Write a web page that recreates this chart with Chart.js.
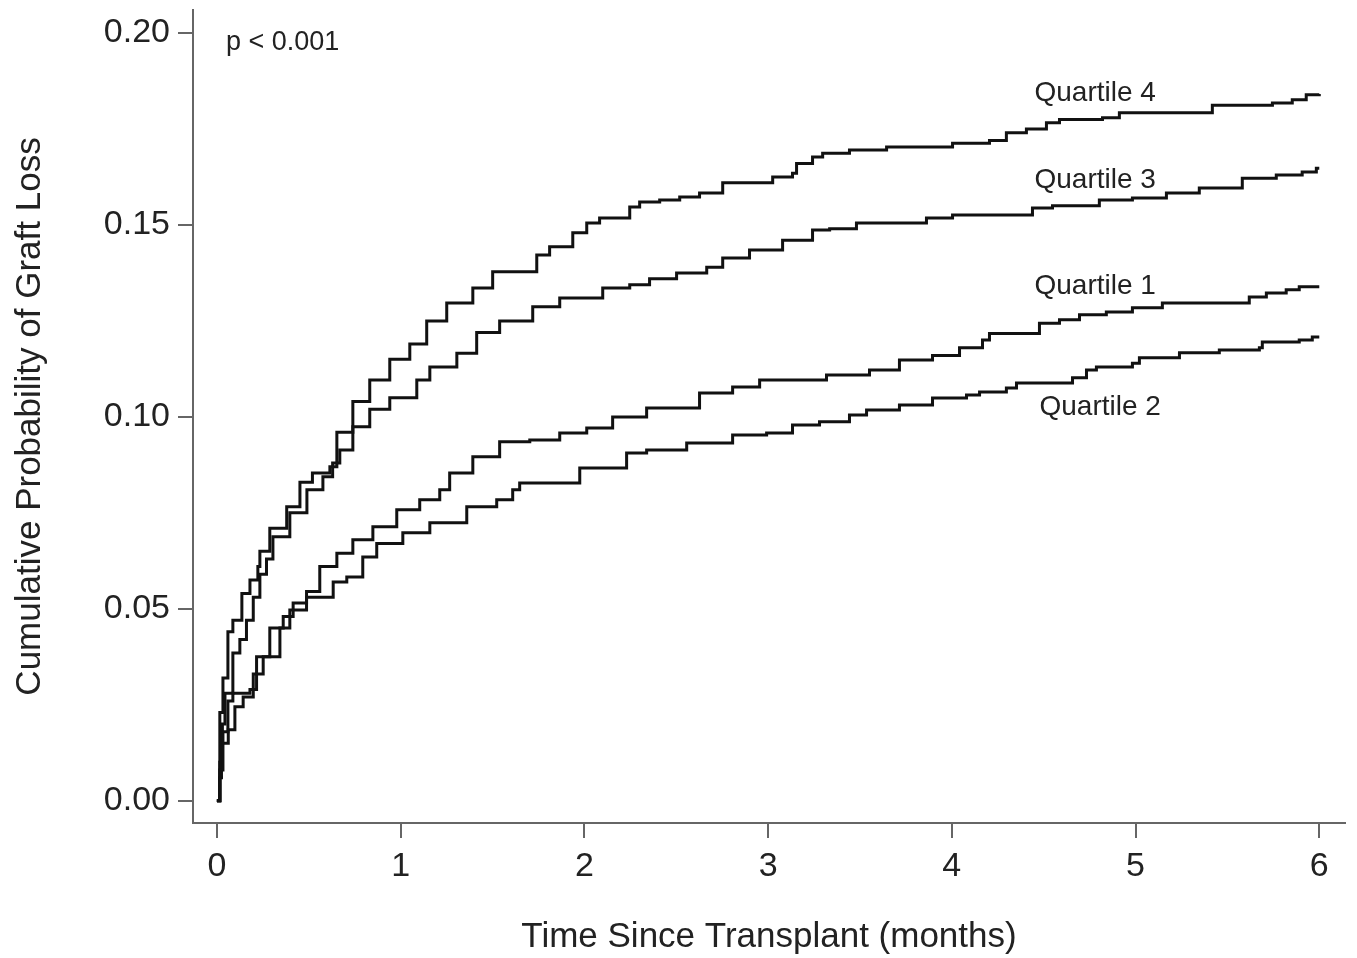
<!DOCTYPE html>
<html>
<head>
<meta charset="utf-8">
<title>Cumulative Probability of Graft Loss</title>
<script src="https://cdn.jsdelivr.net/npm/chart.js@4.4.1/dist/chart.umd.min.js"></script>
<style>
  html, body { margin: 0; padding: 0; background: #fff; }
  #wrap { width: 1357px; height: 958px; }
</style>
</head>
<body>
<div id="wrap"><canvas id="chart"></canvas></div>
<script>
// step curves (months, cumulative probability)
const q1Time = [0, 0.016, 0.033, 0.06, 0.087, 0.18, 0.216, 0.288, 0.361, 0.415, 0.488, 0.56, 0.653, 0.74, 0.849, 0.979, 1.104, 1.213, 1.267, 1.393, 1.539, 1.703, 1.866, 2.013, 2.154, 2.339, 2.627, 2.807, 2.954, 3.318, 3.552, 3.715, 3.895, 4.042, 4.167, 4.205, 4.477, 4.586, 4.695, 4.841, 4.983, 5.146, 5.619, 5.712, 5.82, 5.891, 6.0];
const q1Prob = [0, 0.008, 0.018, 0.026, 0.028, 0.029, 0.0375, 0.045, 0.048, 0.0515, 0.0545, 0.061, 0.0645, 0.068, 0.0714, 0.0758, 0.0784, 0.081, 0.0854, 0.0896, 0.0935, 0.094, 0.0958, 0.0971, 0.1, 0.1023, 0.1062, 0.1078, 0.1096, 0.1109, 0.1122, 0.1148, 0.116, 0.118, 0.12, 0.1217, 0.1244, 0.1253, 0.1266, 0.1273, 0.1284, 0.1297, 0.1312, 0.1323, 0.1331, 0.1339, 0.1339];

const q2Time = [0, 0.016, 0.025, 0.062, 0.098, 0.143, 0.198, 0.252, 0.343, 0.397, 0.488, 0.633, 0.707, 0.794, 0.87, 1.012, 1.159, 1.36, 1.523, 1.61, 1.648, 1.975, 2.23, 2.339, 2.557, 2.807, 2.992, 3.133, 3.28, 3.443, 3.536, 3.715, 3.895, 4.08, 4.151, 4.297, 4.352, 4.657, 4.733, 4.787, 4.983, 5.021, 5.239, 5.456, 5.674, 5.69, 5.891, 5.962, 6.0];
const q2Prob = [0, 0.006, 0.015, 0.0185, 0.0245, 0.027, 0.033, 0.0375, 0.045, 0.0497, 0.053, 0.057, 0.0583, 0.0635, 0.067, 0.0698, 0.0724, 0.0766, 0.0784, 0.081, 0.0828, 0.0867, 0.0906, 0.0914, 0.0932, 0.0953, 0.0958, 0.0979, 0.0987, 0.1005, 0.1018, 0.1031, 0.1049, 0.1057, 0.1065, 0.1075, 0.1088, 0.1102, 0.1122, 0.113, 0.114, 0.1154, 0.1167, 0.1174, 0.118, 0.1195, 0.12, 0.1208, 0.1208];

const q3Time = [0, 0.016, 0.03, 0.044, 0.087, 0.125, 0.161, 0.198, 0.234, 0.27, 0.305, 0.397, 0.49, 0.577, 0.63, 0.669, 0.74, 0.832, 0.941, 1.088, 1.159, 1.306, 1.414, 1.539, 1.719, 1.866, 2.1, 2.247, 2.355, 2.502, 2.666, 2.753, 2.899, 3.079, 3.242, 3.335, 3.481, 3.862, 4.004, 4.439, 4.548, 4.803, 4.983, 5.168, 5.347, 5.581, 5.766, 5.907, 5.984, 6.0];
const q3Prob = [0, 0.01, 0.02, 0.028, 0.0385, 0.042, 0.047, 0.053, 0.059, 0.063, 0.0688, 0.075, 0.081, 0.0844, 0.088, 0.0914, 0.0974, 0.102, 0.105, 0.1096, 0.113, 0.1166, 0.122, 0.125, 0.1287, 0.131, 0.1336, 0.1344, 0.136, 0.1375, 0.139, 0.1414, 0.1435, 0.146, 0.1487, 0.149, 0.1505, 0.1518, 0.1526, 0.1544, 0.155, 0.1565, 0.157, 0.1583, 0.1596, 0.1622, 0.163, 0.1638, 0.1648, 0.1648];

const q4Time = [0, 0.016, 0.033, 0.06, 0.087, 0.136, 0.18, 0.223, 0.234, 0.288, 0.38, 0.452, 0.52, 0.615, 0.653, 0.74, 0.832, 0.941, 1.05, 1.142, 1.251, 1.393, 1.501, 1.741, 1.811, 1.937, 2.013, 2.083, 2.247, 2.301, 2.41, 2.519, 2.627, 2.753, 3.025, 3.133, 3.155, 3.242, 3.297, 3.443, 3.645, 4.004, 4.205, 4.297, 4.406, 4.515, 4.586, 4.82, 4.912, 5.418, 5.745, 5.853, 5.929, 6.0];
const q4Prob = [0, 0.023, 0.032, 0.044, 0.047, 0.054, 0.0575, 0.061, 0.065, 0.071, 0.0766, 0.083, 0.0854, 0.087, 0.096, 0.104, 0.1096, 0.115, 0.119, 0.125, 0.1297, 0.1336, 0.1378, 0.1422, 0.1443, 0.148, 0.1505, 0.1518, 0.1547, 0.156, 0.1565, 0.1573, 0.1583, 0.161, 0.1625, 0.1635, 0.166, 0.1677, 0.1687, 0.1695, 0.1703, 0.1713, 0.172, 0.174, 0.175, 0.1766, 0.1775, 0.1779, 0.1792, 0.1812, 0.1818, 0.1826, 0.1839, 0.1841];

const xTicks = [0, 1, 2, 3, 4, 5, 6];
const yTicks = [0, 0.05, 0.10, 0.15, 0.20];

const seriesNames = ["Quartile 1", "Quartile 2", "Quartile 3", "Quartile 4"];
// where each curve label sits (left edge x, middle y) in data units
const labelX = [4.45, 4.477, 4.45, 4.45];
const labelY = [0.1339, 0.1026, 0.1617, 0.1844];
const pText = "p < 0.001";
const pX = 0.049;
const pY = 0.1974;

const FONT = "'Liberation Sans', Arial, Helvetica, sans-serif";
const AXIS = "#666";
const TEXT = "#222";

const toPoints = (t, p) => t.map((x, i) => ({ x, y: p[i] }));
const curves = [toPoints(q1Time, q1Prob), toPoints(q2Time, q2Prob), toPoints(q3Time, q3Prob), toPoints(q4Time, q4Prob)];

const curveLabels = {
  id: "curveLabels",
  afterDatasetsDraw(chart) {
    const { ctx, scales: { x, y } } = chart;
    ctx.save();
    ctx.fillStyle = TEXT;
    ctx.textAlign = "left";
    ctx.textBaseline = "middle";
    ctx.font = "28px " + FONT;
    seriesNames.forEach((name, i) => {
      ctx.fillText(name, x.getPixelForValue(labelX[i]), y.getPixelForValue(labelY[i]));
    });
    ctx.font = "27px " + FONT;
    ctx.fillText(pText, x.getPixelForValue(pX), y.getPixelForValue(pY));
    ctx.restore();
  }
};

new Chart(document.getElementById("chart"), {
  type: "line",
  data: {
    datasets: curves.map((pts, i) => ({
      label: seriesNames[i],
      data: pts,
      stepped: "before",
      borderColor: "#111",
      borderWidth: 3,
      pointRadius: 0,
      fill: false
    }))
  },
  options: {
    responsive: true,
    maintainAspectRatio: false,
    animation: false,
    layout: { padding: { top: 10, right: 12, left: 0, bottom: 0 } },
    plugins: { legend: { display: false }, tooltip: { enabled: false } },
    scales: {
      x: {
        type: "linear",
        min: -0.13,
        max: 6.14,
        afterFit: s => { s.height = 135; },
        afterBuildTicks: s => { s.ticks = xTicks.map(v => ({ value: v })); },
        border: { display: true, color: AXIS, width: 2 },
        grid: { drawOnChartArea: false, drawTicks: true, tickLength: 15, color: AXIS, lineWidth: 2 },
        ticks: { color: TEXT, font: { family: FONT, size: 34 }, padding: 8, maxRotation: 0, callback: v => String(v) },
        title: { display: true, text: "Time Since Transplant (months)", color: TEXT, font: { family: FONT, size: 35 }, padding: { top: 0, bottom: 0 } }
      },
      y: {
        type: "linear",
        min: -0.0058,
        max: 0.206,
        afterFit: s => { s.width = 193; s.paddingTop = 0; s.paddingBottom = 0; },
        afterBuildTicks: s => { s.ticks = yTicks.map(v => ({ value: v })); },
        border: { display: true, color: AXIS, width: 2 },
        grid: { drawOnChartArea: false, drawTicks: true, tickLength: 15, color: AXIS, lineWidth: 2 },
        ticks: { color: TEXT, font: { family: FONT, size: 34 }, padding: 8, callback: v => v.toFixed(2) },
        title: { display: true, text: "Cumulative Probability of Graft Loss", color: TEXT, font: { family: FONT, size: 35 }, padding: { top: 9, bottom: 0 } }
      }
    }
  },
  plugins: [curveLabels]
});
</script>
</body>
</html>
